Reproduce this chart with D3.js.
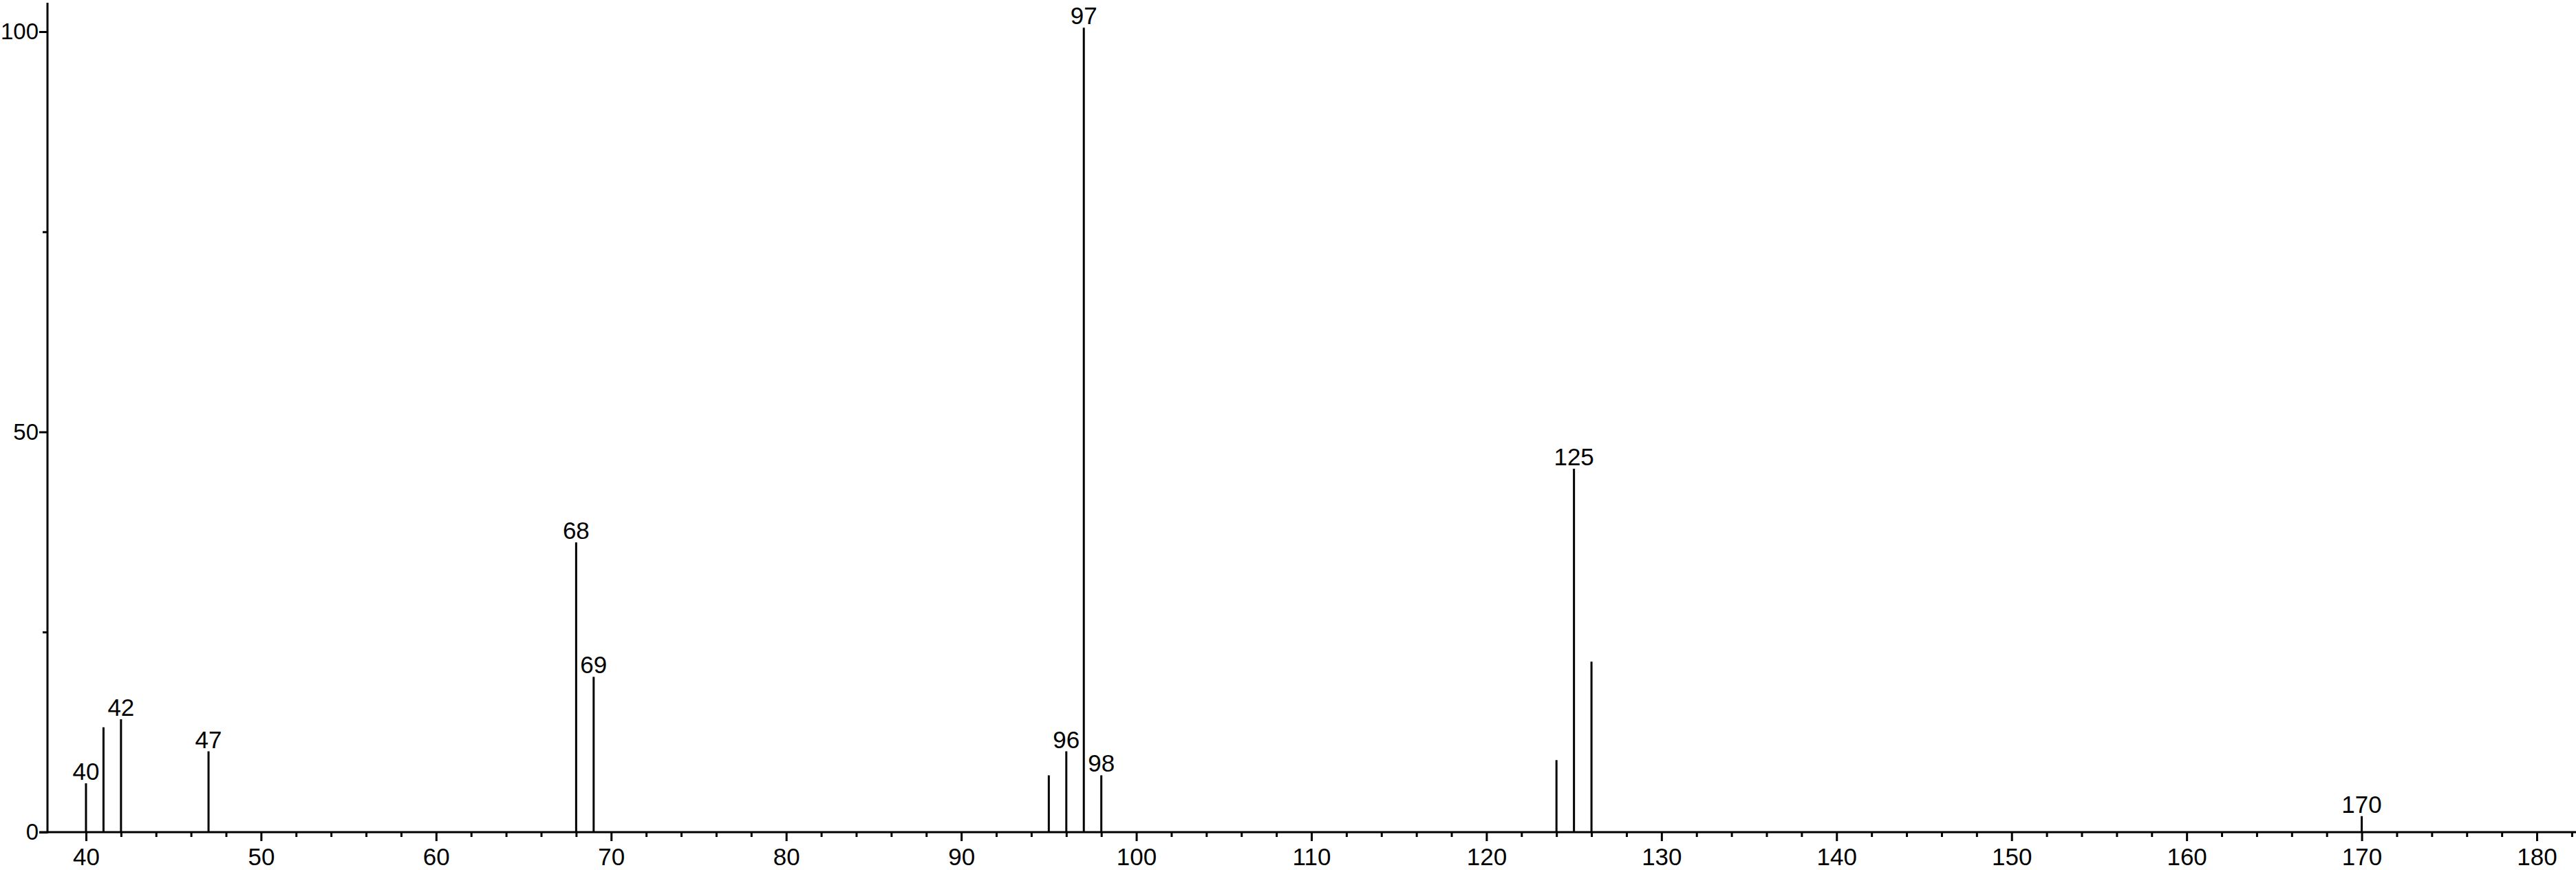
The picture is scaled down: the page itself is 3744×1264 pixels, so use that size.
<!DOCTYPE html>
<html>
  <head>
    <meta charset="utf-8">
    <title>Mass spectrum</title>
    <style>
      body { margin: 0; background: #fff; }
      text { font-family: "Liberation Sans", Arial, sans-serif; fill: #000; }
    </style>
  </head>
  <body>
    <script src="https://d3js.org/d3.v7.min.js"></script>
    <script>
    // m/z values and relative intensities
    var mz        = [40, 41, 42, 47, 68, 69, 95, 96, 97, 98, 124, 125, 126, 170];
    var intensity = [6.1, 13.1, 14.1, 10.1, 36.2, 19.4, 7.1, 10.1, 100.5, 7.1, 9.0, 45.4, 21.3, 2.0];
    // peaks that carry a label
    var labelled  = [40, 42, 47, 68, 69, 96, 97, 98, 125, 170];

    var xMajor = [40, 50, 60, 70, 80, 90, 100, 110, 120, 130, 140, 150, 160, 170, 180];
    var yMajor = [0, 50, 100];
    var yMinor = [25, 75];

    var width = 3744, height = 1264;
    var fontSize = "35px";

    var svg = d3.select("body").append("svg")
      .attr("width", width)
      .attr("height", height);

    // escalas
    var x = d3.scaleLinear().domain([37.8, 182.24]).range([69, 3744]);
    var y = d3.scaleLinear().domain([0, 100]).range([1209, 46]);

    var peaks = mz.map(function(m, i) { return {mz: m, v: intensity[i]}; });

    // picos como lineas verticales
    svg.selectAll("line.peak")
      .data(peaks)
      .enter()
      .append("line")
      .attr("class", "peak")
      .attr("x1", function(d) { return x(d.mz); })
      .attr("x2", function(d) { return x(d.mz); })
      .attr("y1", y(0))
      .attr("y2", function(d) { return y(d.v); })
      .attr("stroke", "black")
      .attr("stroke-width", 3);

    svg.selectAll("text.peak")
      .data(peaks.filter(function(d) { return labelled.indexOf(d.mz) >= 0; }))
      .enter()
      .append("text")
      .attr("class", "peak")
      .attr("x", function(d) { return x(d.mz); })
      .attr("y", function(d) { return y(d.v) - 5; })
      .attr("text-anchor", "middle")
      .style("font-size", fontSize)
      .text(function(d) { return d.mz; });

    // eje x: ticks mayores con etiqueta, menores cada 2
    var minorX = d3.range(40, 183, 2).filter(function(v) { return v % 10 !== 0; });

    var gx = svg.append("g").attr("transform", "translate(0," + y(0) + ")");
    gx.call(d3.axisBottom(x).tickValues(minorX).tickSize(7).tickFormat(""));
    gx.select(".domain").remove();
    var gx2 = svg.append("g").attr("transform", "translate(0," + y(0) + ")");
    gx2.call(d3.axisBottom(x).tickValues(xMajor).tickSize(13).tickPadding(10).tickFormat(d3.format("d")));
    gx2.select(".domain").remove();
    gx2.selectAll("text").style("font-size", fontSize).attr("dy", "0.71em");

    // eje y
    var gy = svg.append("g").attr("transform", "translate(" + x(37.8) + ",0)");
    gy.call(d3.axisLeft(y).tickValues(yMajor).tickSize(12).tickPadding(1).tickFormat(d3.format("d")));
    gy.select(".domain").remove();
    gy.selectAll("text").style("font-size", "33px");
    var gy2 = svg.append("g").attr("transform", "translate(" + x(37.8) + ",0)");
    gy2.call(d3.axisLeft(y).tickValues(yMinor).tickSize(7).tickFormat(""));
    gy2.select(".domain").remove();
    svg.selectAll("g .tick line").attr("stroke-width", 3);

    // lineas de los ejes
    svg.append("line")
      .attr("x1", x(37.8) - 12).attr("x2", width)
      .attr("y1", y(0)).attr("y2", y(0))
      .attr("stroke", "black").attr("stroke-width", 3);
    svg.append("line")
      .attr("x1", x(37.8)).attr("x2", x(37.8))
      .attr("y1", y(0) + 1.5).attr("y2", 4)
      .attr("stroke", "black").attr("stroke-width", 3);
    </script>
  </body>
</html>
